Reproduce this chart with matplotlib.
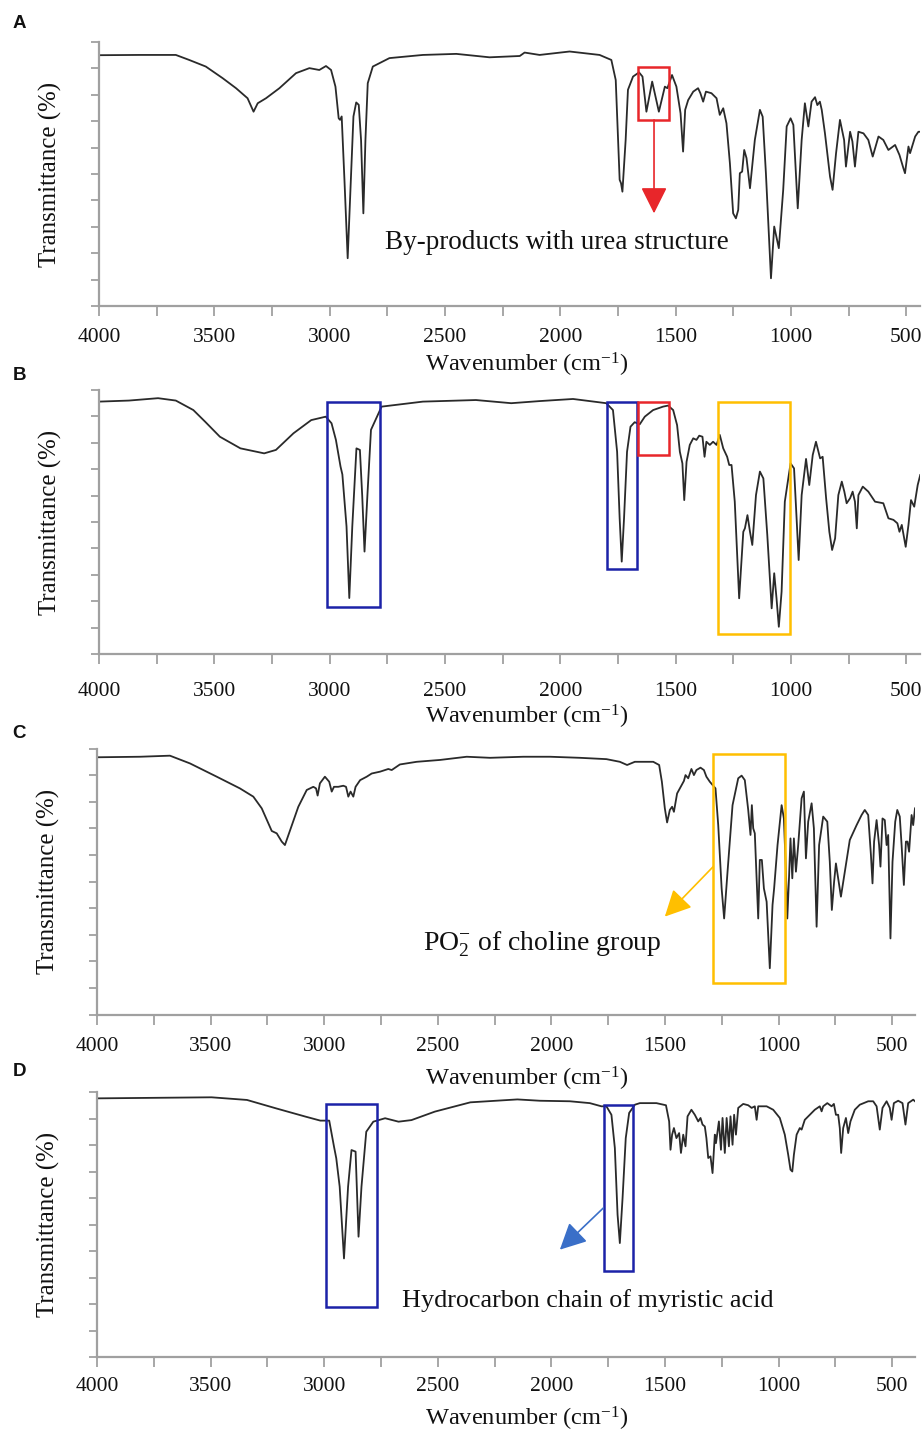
import matplotlib
matplotlib.use("Agg")
import matplotlib.pyplot as plt
from matplotlib.patches import Rectangle
from matplotlib.ticker import MultipleLocator

plt.rcParams['font.family'] = ['Liberation Serif', 'DejaVu Serif']
plt.rcParams['mathtext.fontset'] = 'custom'
plt.rcParams['mathtext.rm'] = 'Liberation Serif'
plt.rcParams['mathtext.it'] = 'Liberation Serif:italic'

# ---------------- data: (wavenumber cm-1, transmittance %) ----------------
spec_A = [(4000, 95.0), (3826, 95.1), (3667, 95.1), (3609, 93.2), (3537, 90.7), (3464, 86.3),
          (3406, 82.5), (3356, 78.7), (3330, 73.6), (3312, 76.8), (3276, 78.7), (3218, 82.5),
          (3146, 88.2), (3088, 90.1), (3045, 89.4), (3016, 90.9), (2994, 89.4), (2975, 83.1),
          (2961, 71.1), (2955, 70.5), (2948, 71.8), (2936, 47.8), (2922, 18.1), (2910, 44.0),
          (2897, 71.8), (2885, 77.1), (2874, 76.2), (2864, 62.9), (2854, 35.1), (2845, 62.9),
          (2835, 84.4), (2813, 90.7), (2741, 93.9), (2596, 95.1), (2451, 95.5), (2307, 94.2),
          (2176, 94.7), (2155, 96.0), (2090, 95.1), (1960, 96.4), (1830, 95.1), (1779, 93.2),
          (1760, 85.6), (1743, 47.8), (1737, 46.5), (1731, 43.3), (1717, 62.9), (1707, 81.9),
          (1685, 86.9), (1659, 88.5), (1644, 86.9), (1627, 73.6), (1602, 85.0), (1573, 73.6),
          (1547, 83.1), (1536, 82.5), (1516, 87.5), (1497, 83.1), (1479, 73.0), (1468, 58.5),
          (1459, 74.3), (1446, 78.0), (1424, 81.2), (1403, 82.5), (1393, 80.6), (1381, 77.4),
          (1369, 81.2), (1345, 80.6), (1323, 78.7), (1309, 72.4), (1294, 74.9), (1280, 69.2),
          (1265, 54.0), (1251, 35.1), (1239, 33.2), (1229, 36.4), (1222, 50.3), (1212, 50.9),
          (1203, 59.1), (1193, 56.0), (1178, 44.6), (1157, 62.9), (1135, 74.3), (1123, 71.7),
          (1109, 50.3), (1087, 10.5), (1073, 30.1), (1053, 21.9), (1034, 44.0), (1019, 68.0),
          (1002, 71.1), (990, 68.6), (971, 37.0), (954, 62.9), (940, 76.8), (925, 68.0),
          (911, 77.4), (896, 79.1), (886, 76.1), (875, 77.4), (867, 74.3), (853, 65.4),
          (831, 49.0), (820, 44.0), (805, 57.8), (788, 70.5), (770, 62.9), (762, 52.8),
          (744, 66.0), (734, 62.3), (723, 52.8), (708, 66.0), (686, 65.4), (665, 62.9),
          (646, 56.6), (621, 64.2), (600, 62.9), (578, 59.1), (549, 61.0), (530, 57.2),
          (513, 52.2), (506, 50.3), (491, 60.4), (484, 57.9), (462, 64.2), (448, 66.0), (440, 66.0)]

spec_B = [(4000, 95.6), (3870, 96.0), (3744, 96.9), (3667, 96.0), (3591, 92.4), (3540, 88.0),
          (3476, 82.3), (3387, 77.9), (3284, 76.0), (3233, 77.3), (3157, 83.6), (3080, 88.6),
          (3017, 89.9), (2992, 87.4), (2973, 81.1), (2953, 71.0), (2945, 68.0), (2927, 48.3),
          (2915, 21.2), (2902, 48.3), (2884, 77.9), (2869, 77.3), (2859, 60.0), (2849, 38.8),
          (2836, 60.9), (2821, 84.9), (2775, 93.7), (2596, 95.6), (2366, 96.2), (2213, 95.0),
          (2090, 95.8), (1945, 96.6), (1801, 95.0), (1772, 92.4), (1754, 76.6), (1743, 51.4),
          (1734, 35.0), (1724, 51.4), (1711, 76.6), (1696, 86.1), (1678, 87.8), (1656, 87.0),
          (1634, 89.9), (1598, 92.4), (1555, 93.7), (1533, 94.1), (1511, 92.4), (1494, 86.7),
          (1482, 76.6), (1471, 72.2), (1463, 58.3), (1453, 72.8), (1439, 79.2), (1424, 81.7),
          (1410, 81.1), (1398, 82.7), (1384, 82.3), (1375, 74.7), (1367, 80.4), (1352, 79.2),
          (1338, 80.4), (1323, 79.2), (1309, 83.0), (1294, 77.9), (1277, 74.7), (1268, 71.6),
          (1258, 71.6), (1244, 57.7), (1225, 21.1), (1207, 46.3), (1200, 47.6), (1189, 52.6),
          (1178, 46.3), (1168, 41.3), (1152, 60.2), (1135, 69.1), (1120, 66.5), (1103, 45.1),
          (1084, 17.3), (1073, 30.6), (1063, 21.1), (1053, 10.3), (1041, 23.6), (1027, 57.7),
          (1012, 66.5), (1002, 72.2), (987, 70.3), (976, 51.4), (967, 35.6), (954, 60.2),
          (935, 73.9), (921, 64.0), (906, 75.4), (892, 80.4), (874, 74.1), (863, 74.7),
          (848, 59.0), (834, 46.3), (822, 39.4), (809, 43.8), (795, 60.2), (780, 65.3),
          (769, 61.5), (759, 57.1), (744, 59.0), (733, 61.5), (723, 57.7), (715, 47.6),
          (708, 60.2), (689, 63.4), (665, 61.5), (636, 57.7), (600, 57.1), (578, 51.4),
          (556, 50.8), (539, 49.5), (530, 46.3), (520, 48.9), (503, 40.6), (491, 48.9),
          (480, 58.3), (466, 55.8), (451, 64.0), (440, 67.8)]

spec_C = [(4000, 96.7), (3811, 96.9), (3679, 97.3), (3591, 94.4), (3473, 89.4), (3371, 85.0),
          (3312, 81.9), (3275, 77.5), (3246, 71.9), (3231, 69.0), (3209, 68.1), (3187, 65.0),
          (3173, 63.7), (3150, 69.3), (3114, 78.1), (3077, 84.4), (3048, 85.6), (3036, 85.0),
          (3029, 82.3), (3019, 86.9), (2997, 89.4), (2978, 87.5), (2967, 83.8), (2957, 85.6),
          (2938, 85.6), (2916, 86.0), (2904, 85.6), (2894, 81.9), (2884, 83.8), (2872, 81.9),
          (2862, 85.6), (2842, 88.1), (2813, 89.4), (2791, 90.6), (2754, 91.3), (2718, 92.3),
          (2703, 91.9), (2667, 94.0), (2593, 95.0), (2490, 95.7), (2373, 96.9), (2270, 96.5),
          (2124, 96.9), (2006, 96.9), (1875, 96.5), (1758, 96.0), (1699, 95.0), (1667, 93.8),
          (1633, 95.0), (1552, 95.0), (1526, 93.8), (1514, 87.5), (1501, 77.5), (1491, 72.2),
          (1479, 76.9), (1469, 78.1), (1461, 76.2), (1447, 83.1), (1435, 85.0), (1426, 86.5),
          (1417, 87.8), (1410, 90.0), (1398, 88.8), (1384, 92.3), (1373, 90.0), (1362, 91.9),
          (1344, 92.8), (1329, 91.9), (1318, 89.4), (1303, 87.5), (1291, 86.3), (1278, 85.0),
          (1266, 71.2), (1251, 47.4), (1240, 36.1), (1225, 53.7), (1203, 78.7), (1178, 88.8),
          (1163, 89.8), (1149, 88.1), (1134, 76.9), (1124, 67.5), (1118, 78.7), (1112, 70.0),
          (1105, 68.1), (1097, 51.2), (1090, 36.1), (1083, 58.1), (1074, 58.1), (1065, 47.4),
          (1053, 42.4), (1039, 17.4), (1027, 41.2), (1020, 47.4), (1005, 63.7), (987, 78.7),
          (977, 73.7), (968, 53.7), (962, 36.1), (954, 52.4), (948, 66.2), (940, 51.2),
          (933, 66.2), (924, 53.7), (914, 63.7), (899, 81.3), (889, 83.8), (880, 58.7),
          (870, 72.5), (855, 79.4), (845, 70.0), (833, 33.0), (822, 63.7), (804, 74.4),
          (786, 72.5), (775, 57.4), (766, 39.3), (756, 49.9), (748, 56.8), (738, 51.2),
          (726, 44.3), (709, 53.7), (687, 65.6), (657, 71.2), (635, 75.0), (621, 76.9),
          (606, 75.0), (594, 60.0), (587, 49.3), (580, 65.0), (569, 73.1), (558, 63.7),
          (552, 55.6), (543, 73.7), (533, 73.1), (525, 63.7), (518, 67.5), (508, 28.6),
          (499, 57.4), (487, 72.5), (478, 76.9), (467, 74.4), (459, 63.7), (449, 48.7),
          (440, 65.0), (433, 65.0), (426, 61.2), (415, 75.0), (408, 71.2), (400, 77.5)]

spec_D = [(4000, 97.6), (3496, 98.0), (3340, 97.0), (3211, 93.8), (3082, 90.7), (3017, 89.2),
          (2978, 89.2), (2957, 79.4), (2947, 75.0), (2932, 64.3), (2913, 37.2), (2895, 64.3),
          (2880, 78.1), (2862, 77.5), (2849, 45.4), (2836, 64.3), (2815, 85.0), (2784, 88.8),
          (2732, 90.1), (2673, 88.8), (2616, 89.4), (2513, 92.6), (2357, 96.1), (2150, 97.2),
          (2051, 96.7), (1919, 96.5), (1831, 95.8), (1780, 94.6), (1758, 94.6), (1736, 91.4),
          (1721, 78.9), (1709, 53.7), (1699, 43.0), (1687, 60.0), (1673, 82.6), (1658, 92.1),
          (1633, 95.2), (1611, 95.8), (1538, 95.8), (1496, 95.0), (1482, 88.9), (1476, 78.2),
          (1469, 83.9), (1461, 86.4), (1450, 82.6), (1438, 84.5), (1430, 77.0), (1420, 83.9),
          (1410, 79.5), (1401, 90.8), (1384, 93.3), (1369, 91.4), (1354, 88.9), (1344, 90.2),
          (1335, 87.7), (1325, 87.0), (1318, 82.6), (1310, 75.1), (1300, 75.7), (1291, 69.4),
          (1281, 83.9), (1276, 80.7), (1263, 88.9), (1254, 78.2), (1247, 90.2), (1237, 77.0),
          (1229, 90.2), (1219, 79.5), (1212, 90.8), (1203, 80.1), (1196, 91.4), (1188, 83.9),
          (1178, 94.0), (1156, 95.5), (1134, 95.0), (1119, 94.0), (1105, 94.6), (1097, 89.5),
          (1090, 94.6), (1053, 94.6), (1024, 93.3), (995, 90.2), (973, 83.9), (958, 76.3),
          (948, 70.7), (940, 70.0), (933, 76.3), (921, 83.9), (907, 86.4), (899, 85.8),
          (885, 89.5), (863, 91.4), (841, 93.3), (819, 94.6), (811, 92.7), (804, 94.6),
          (786, 95.8), (767, 94.6), (757, 95.5), (748, 91.4), (738, 91.4), (731, 86.4),
          (725, 77.0), (716, 86.4), (704, 90.2), (694, 84.5), (684, 88.9), (665, 93.3),
          (643, 95.2), (606, 96.5), (584, 96.5), (569, 94.6), (555, 85.8), (543, 94.0),
          (525, 96.5), (511, 94.0), (503, 89.5), (493, 95.8), (474, 96.7), (455, 95.8),
          (442, 87.7), (430, 95.8), (408, 97.1), (400, 96.5)]

panel_letters = ["A", "B", "C", "D"]
x_tick_values = [4000, 3500, 3000, 2500, 2000, 1500, 1000, 500]
x_label = r"Wavenumber (cm$^{\mathregular{-1}}$)"
y_label = "Transmittance (%)"

# highlight boxes: (wn_left, wn_right, T_bottom, T_top, colour)
boxes_A = [(1662, 1528, 70.5, 90.4, "#e8262a")]
boxes_B = [(3010, 2784, 17.8, 95.3, "#1c22a8"), (1796, 1667, 32.2, 95.3, "#1c22a8"),
           (1663, 1529, 75.4, 95.3, "#e8262a"), (1316, 1005, 7.4, 95.3, "#ffbf00")]
boxes_C = [(1288, 970, 11.7, 97.8, "#ffbf00")]
boxes_D = [(2991, 2766, 18.8, 95.4, "#1c22a8"), (1769, 1640, 32.6, 95.2, "#1c22a8")]

# arrows: (tail, head, colour)
arrows_A = [((1594, 70.5), (1594, 35.1), "#e8262a")]
arrows_C = [((1288, 55.6), (1501, 36.8), "#ffbf00")]
arrows_D = [((1772, 56.2), (1963, 40.5), "#3a6fc8")]

# notes: (wn centre, T centre, text, font size)
notes_A = [(2016, 23.9, "By-products with urea structure", 19.5)]
notes_C = [(2042, 26.5, r"PO$_2^{\mathregular{-}}$ of choline group", 20)]
notes_D = [(1840, 21.5, "Hydrocarbon chain of myristic acid", 18.8)]

# ---------------- layout ----------------
W, H = 922, 1432
fig = plt.figure(figsize=(W / 100, H / 100), dpi=100)

panels = [
    dict(rect=(99, 42, 920, 306), xlim=(4000, 441), spec=spec_A, boxes=boxes_A,
         arrows=arrows_A, notes=notes_A, letter_xy=(19, 23), tick_off=30, xl_off=59),
    dict(rect=(99, 390, 920, 654), xlim=(4000, 441), spec=spec_B, boxes=boxes_B,
         arrows=[], notes=[], letter_xy=(19, 376), tick_off=36, xl_off=63),
    dict(rect=(97, 748.5, 915, 1014.5), xlim=(4000, 400), spec=spec_C, boxes=boxes_C,
         arrows=arrows_C, notes=notes_C, letter_xy=(19, 734), tick_off=30.5, xl_off=64),
    dict(rect=(97, 1092, 915, 1357), xlim=(4000, 400), spec=spec_D, boxes=boxes_D,
         arrows=arrows_D, notes=notes_D, letter_xy=(19, 1072), tick_off=28, xl_off=62),
]

spine_col = "#a0a0a0"
tick_fs = 15.5
for letter, p in zip(panel_letters, panels):
    l, t, r, b = p["rect"]
    ax = fig.add_axes([l / W, 1 - b / H, (r - l) / W, (b - t) / H])
    wn = [pt[0] for pt in p["spec"]]
    tr = [pt[1] for pt in p["spec"]]
    ax.plot(wn, tr, color="#2a2a2a", lw=1.3, solid_joinstyle="round")
    ax.set_xlim(*p["xlim"])
    ax.set_ylim(0, 100)
    for s in ("top", "right"):
        ax.spines[s].set_visible(False)
    for s in ("left", "bottom"):
        ax.spines[s].set_color(spine_col)
        ax.spines[s].set_linewidth(1.6)
    ax.set_xticks(x_tick_values)
    ax.xaxis.set_minor_locator(MultipleLocator(250))
    ax.yaxis.set_major_locator(MultipleLocator(10))
    ax.set_yticklabels([])
    ax.tick_params(axis="both", which="both", direction="out", color=spine_col, width=1.3)
    ax.tick_params(axis="x", which="both", length=7)
    ax.tick_params(axis="y", length=6)
    pad_pt = (p["tick_off"] - 7 - 10.5) / 1.389
    ax.tick_params(axis="x", labelsize=tick_fs, pad=pad_pt, labelcolor="#111111")
    ax.set_xticklabels([str(v) for v in x_tick_values])
    h = b - t
    ax.set_xlabel(x_label, fontsize=17.6, color="#111111", va="center")
    ax.xaxis.set_label_coords((527 - l) / (r - l), -p["xl_off"] / h)
    ax.set_ylabel(y_label, fontsize=17.9, color="#111111", va="center")
    ax.yaxis.set_label_coords(-49 / (r - l), 0.5)

    for (x0, x1, y0, y1, col) in p["boxes"]:
        ax.add_patch(Rectangle((x0, y0), x1 - x0, y1 - y0, fill=False, edgecolor=col,
                               lw=1.8, zorder=3))
    for (tail, head, col) in p["arrows"]:
        ax.annotate("", xy=head, xytext=tail,
                    arrowprops=dict(arrowstyle="-|>,head_length=0.9,head_width=0.45",
                                    color=col, lw=1.2, mutation_scale=18,
                                    shrinkA=0, shrinkB=0))
    for (x, y, s, fs) in p["notes"]:
        ax.text(x, y, s, ha="center", va="center", fontsize=fs, color="#111111")

    lx, ly = p["letter_xy"]
    fig.text(lx / W, 1 - ly / H, letter, ha="center", va="center", fontsize=13.5,
             fontweight="bold", family="Liberation Sans", color="#111111")

fig.savefig("out.png", dpi=100)
